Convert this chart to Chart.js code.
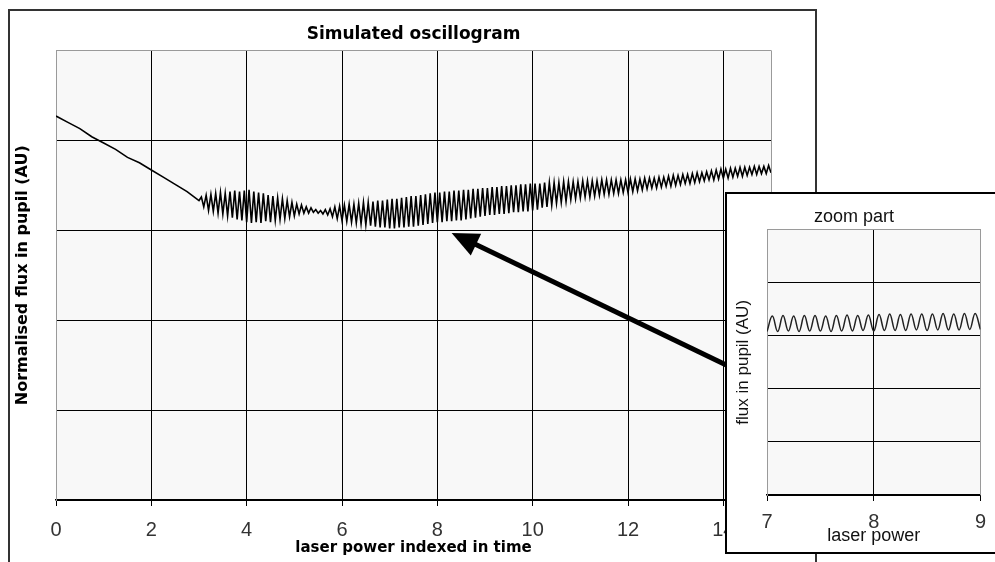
<!DOCTYPE html>
<html><head><meta charset="utf-8">
<script src="https://cdn.jsdelivr.net/npm/chart.js@4.4.1/dist/chart.umd.min.js"></script>
<style>
html,body{margin:0;padding:0;background:#fff;}
body{width:995px;height:562px;overflow:hidden;position:relative;}
#frame{position:absolute;left:8px;top:9px;width:805px;height:600px;border:2px solid #333;}
#mainWrap{position:absolute;left:0;top:0;}
#inset{position:absolute;left:725px;top:192px;width:300px;height:358px;border:2px solid #000;background:#fff;}
canvas{display:block;}
</style></head><body>
<div id="frame"></div>
<div id="mainWrap"><canvas id="main" width="816" height="562"></canvas></div>
<div id="inset"><canvas id="zoom" width="268" height="358"></canvas></div>
<script>
// ---------- DATA ----------
const mainTitle = 'Simulated oscillogram';
const mainXTitle = 'laser power indexed in time';
const mainYTitle = 'Normalised flux in pupil (AU)';
const mainXTicks = [0, 2, 4, 6, 8, 10, 12, 14];

// initial ramp (before oscillation)
const rampX = [0, 0.25, 0.5, 0.75, 1, 1.25, 1.5, 1.75, 2, 2.25, 2.5, 2.75, 3];
const rampY = [4.27, 4.20, 4.13, 4.04, 3.97, 3.90, 3.81, 3.75, 3.67, 3.59, 3.51, 3.43, 3.33];

// oscillating part
const oscX = [
 3.05,3.1,3.15,3.2,3.25,3.3,3.35,3.4,3.45,3.5,3.55,3.6,3.65,3.7,3.75,3.8,3.85,3.9,3.95,4,
 4.05,4.1,4.15,4.2,4.25,4.3,4.35,4.4,4.45,4.5,4.55,4.6,4.65,4.7,4.75,4.8,4.85,4.9,4.95,5,
 5.05,5.1,5.15,5.2,5.25,5.3,5.35,5.4,5.45,5.5,5.55,5.6,5.65,5.7,5.75,5.8,5.85,5.9,5.95,6,
 6.05,6.1,6.15,6.2,6.25,6.3,6.35,6.4,6.45,6.5,6.55,6.6,6.65,6.7,6.75,6.8,6.85,6.9,6.95,7,
 7.05,7.1,7.15,7.2,7.25,7.3,7.35,7.4,7.45,7.5,7.55,7.6,7.65,7.7,7.75,7.8,7.85,7.9,7.95,8,
 8.05,8.1,8.15,8.2,8.25,8.3,8.35,8.4,8.45,8.5,8.55,8.6,8.65,8.7,8.75,8.8,8.85,8.9,8.95,9,
 9.05,9.1,9.15,9.2,9.25,9.3,9.35,9.4,9.45,9.5,9.55,9.6,9.65,9.7,9.75,9.8,9.85,9.9,9.95,10,
 10.05,10.1,10.15,10.2,10.25,10.3,10.35,10.4,10.45,10.5,10.55,10.6,10.65,10.7,10.75,10.8,10.85,10.9,10.95,11,
 11.05,11.1,11.15,11.2,11.25,11.3,11.35,11.4,11.45,11.5,11.55,11.6,11.65,11.7,11.75,11.8,11.85,11.9,11.95,12,
 12.05,12.1,12.15,12.2,12.25,12.3,12.35,12.4,12.45,12.5,12.55,12.6,12.65,12.7,12.75,12.8,12.85,12.9,12.95,13,
 13.05,13.1,13.15,13.2,13.25,13.3,13.35,13.4,13.45,13.5,13.55,13.6,13.65,13.7,13.75,13.8,13.85,13.9,13.95,14,
 14.05,14.1,14.15,14.2,14.25,14.3,14.35,14.4,14.45,14.5,14.55,14.6,14.65,14.7,14.75,14.8,14.85,14.9,14.95,15
];
const oscY = [
 3.37,3.26,3.39,3.22,3.40,3.21,3.41,3.19,3.42,3.18,3.41,3.16,3.43,3.14,3.44,3.12,3.43,3.11,3.44,3.09,
 3.45,3.08,3.43,3.09,3.42,3.08,3.41,3.10,3.39,3.09,3.38,3.11,3.36,3.12,3.35,3.13,3.33,3.15,3.31,3.16,
 3.29,3.18,3.28,3.19,3.26,3.19,3.25,3.20,3.23,3.19,3.22,3.18,3.23,3.17,3.24,3.15,3.26,3.13,3.27,3.11,
 3.28,3.10,3.29,3.09,3.29,3.08,3.30,3.07,3.31,3.06,3.31,3.05,3.32,3.04,3.33,3.03,3.33,3.03,3.34,3.02,
 3.35,3.02,3.35,3.03,3.36,3.03,3.37,3.04,3.38,3.04,3.38,3.05,3.39,3.06,3.40,3.07,3.41,3.08,3.42,3.09,
 3.42,3.09,3.43,3.10,3.43,3.10,3.44,3.11,3.44,3.11,3.45,3.12,3.45,3.13,3.46,3.14,3.46,3.15,3.47,3.16,
 3.47,3.17,3.48,3.17,3.48,3.18,3.49,3.18,3.49,3.19,3.50,3.20,3.50,3.20,3.51,3.21,3.51,3.21,3.52,3.22,
 3.52,3.23,3.52,3.25,3.53,3.26,3.53,3.28,3.53,3.30,3.53,3.31,3.54,3.32,3.54,3.34,3.54,3.35,3.54,3.36,
 3.55,3.37,3.55,3.37,3.55,3.38,3.55,3.39,3.56,3.40,3.56,3.40,3.56,3.41,3.56,3.41,3.56,3.42,3.56,3.42,
 3.57,3.43,3.57,3.44,3.57,3.45,3.58,3.46,3.58,3.47,3.58,3.47,3.59,3.48,3.59,3.49,3.60,3.49,3.61,3.50,
 3.61,3.51,3.62,3.52,3.62,3.52,3.63,3.53,3.64,3.54,3.64,3.55,3.65,3.56,3.66,3.56,3.67,3.57,3.68,3.58,
 3.68,3.58,3.69,3.59,3.69,3.60,3.70,3.60,3.70,3.61,3.70,3.62,3.71,3.62,3.71,3.63,3.71,3.63,3.72,3.64
];

// arrow annotation (data coordinates of main chart)
const arrowTail = [14.3, 1.44];
const arrowHead = [8.3, 2.97];

// inset ("zoom part")
const zoomTitle = 'zoom part';
const zoomXTitle = 'laser power';
const zoomYTitle = 'flux in pupil (AU)';
const zoomXTicks = [7, 8, 9];
const zoomX = [7,7.05,7.1,7.15,7.2,7.25,7.3,7.35,7.4,7.45,7.5,7.55,7.6,7.65,7.7,7.75,7.8,7.85,7.9,7.95,
 8,8.05,8.1,8.15,8.2,8.25,8.3,8.35,8.4,8.45,8.5,8.55,8.6,8.65,8.7,8.75,8.8,8.85,8.9,8.95,9];
const zoomY = [3.08,3.37,3.08,3.38,3.09,3.37,3.08,3.38,3.09,3.38,3.09,3.37,3.08,3.38,3.09,3.39,3.09,3.38,3.10,3.39,
 3.09,3.40,3.10,3.41,3.10,3.40,3.10,3.41,3.11,3.41,3.10,3.41,3.11,3.42,3.11,3.41,3.11,3.42,3.12,3.42,3.12];

// ---------- STYLE / RENDER ----------
const edgeGray = '#9a9a9a';
const plotBg = '#f8f8f8';
const sans = "'Liberation Sans', Arial, sans-serif";
const wideBold = "'DejaVu Sans', 'Liberation Sans', sans-serif";

const mainX = rampX.concat(oscX);
const mainY = rampY.concat(oscY);
const mainPoints = mainX.map((x, i) => ({x: x, y: mainY[i]}));
const zoomPoints = zoomX.map((x, i) => ({x: x, y: zoomY[i]}));

const areaPlugin = {
  id: 'area',
  beforeDraw(chart) {
    const a = chart.chartArea, ctx = chart.ctx;
    ctx.save(); ctx.fillStyle = plotBg;
    ctx.fillRect(a.left, a.top, a.right - a.left, a.bottom - a.top);
    ctx.restore();
  },
  beforeDatasetsDraw(chart) {
    const a = chart.chartArea, ctx = chart.ctx;
    ctx.save(); ctx.strokeStyle = edgeGray; ctx.lineWidth = 1;
    ctx.beginPath(); ctx.moveTo(Math.round(a.right) + 0.5, a.top); ctx.lineTo(Math.round(a.right) + 0.5, a.bottom); ctx.stroke();
    ctx.restore();
  }
};

const arrowPlugin = {
  id: 'arrow',
  afterDatasetsDraw(chart) {
    const {ctx, scales: {x, y}} = chart;
    const x1 = x.getPixelForValue(arrowTail[0]), y1 = y.getPixelForValue(arrowTail[1]);
    const x2 = x.getPixelForValue(arrowHead[0]), y2 = y.getPixelForValue(arrowHead[1]);
    const dx = x2 - x1, dy = y2 - y1, L = Math.hypot(dx, dy), ux = dx / L, uy = dy / L;
    const headLen = 27, headHalf = 12;
    const bx = x2 - ux * headLen, by = y2 - uy * headLen;
    ctx.save();
    ctx.strokeStyle = '#000'; ctx.lineWidth = 5;
    ctx.beginPath(); ctx.moveTo(x1, y1); ctx.lineTo(bx + ux * 3, by + uy * 3); ctx.stroke();
    ctx.fillStyle = '#000';
    ctx.beginPath(); ctx.moveTo(x2, y2);
    ctx.lineTo(bx - uy * headHalf, by + ux * headHalf);
    ctx.lineTo(bx + uy * headHalf, by - ux * headHalf);
    ctx.closePath(); ctx.fill();
    ctx.restore();
  }
};

new Chart(document.getElementById('main'), {
  type: 'line',
  data: {datasets: [{data: mainPoints, borderColor: '#000', borderWidth: 1.6, pointRadius: 0, tension: 0, fill: false}]},
  options: {
    responsive: false, animation: false, events: [],
    layout: {padding: {left: 0, right: 45, top: 0, bottom: 0}},
    plugins: {
      legend: {display: false}, tooltip: {enabled: false},
      title: {display: true, text: mainTitle, fullSize: false, color: '#000',
        font: {family: wideBold, size: 17, weight: 'bold'}, padding: {top: 24, bottom: 6}}
    },
    scales: {
      x: {
        type: 'linear', min: 0, max: 15,
        afterBuildTicks: s => { s.ticks = mainXTicks.map(v => ({value: v})); },
        afterFit: s => { s.height = 62; },
        grid: {color: c => (c.tick && c.tick.value === 0) ? edgeGray : '#000', lineWidth: 1, tickLength: 6, tickColor: '#000'},
        border: {color: '#000', width: 1.5},
        ticks: {color: '#333', font: {family: sans, size: 20}, padding: 12, maxRotation: 0, autoSkip: false},
        title: {display: true, text: mainXTitle, color: '#000', font: {family: wideBold, size: 15, weight: 'bold'}, padding: {top: 0, bottom: 5}}
      },
      y: {
        type: 'linear', min: 0, max: 5,
        ticks: {display: false, stepSize: 1},
        afterFit: s => { s.width = 56; },
        grid: {color: c => (c.tick && c.tick.value === 5) ? edgeGray : '#000', lineWidth: 1, drawTicks: false},
        border: {color: edgeGray, width: 1},
        title: {display: true, text: mainYTitle, color: '#000', font: {family: wideBold, size: 16, weight: 'bold'}, padding: {top: 13, bottom: 0}}
      }
    }
  },
  plugins: [areaPlugin, arrowPlugin]
});

new Chart(document.getElementById('zoom'), {
  type: 'line',
  data: {datasets: [{data: zoomPoints, borderColor: '#222', borderWidth: 1.5, pointRadius: 0, tension: 0.4, fill: false}]},
  options: {
    responsive: false, animation: false, events: [],
    layout: {padding: {left: 0, right: 14, top: 0, bottom: 0}},
    plugins: {
      legend: {display: false}, tooltip: {enabled: false},
      title: {display: true, text: zoomTitle, color: '#111',
        font: {family: sans, size: 18, weight: 'normal'}, padding: {top: 12, bottom: 2}}
    },
    scales: {
      x: {
        type: 'linear', min: 7, max: 9,
        afterBuildTicks: s => { s.ticks = zoomXTicks.map(v => ({value: v})); },
        afterFit: s => { s.height = 57; },
        grid: {color: c => (c.tick && c.tick.value === 7) ? edgeGray : '#000', lineWidth: 1, tickLength: 6, tickColor: '#000'},
        border: {color: '#000', width: 1.5},
        ticks: {color: '#333', font: {family: sans, size: 20}, padding: 9, maxRotation: 0, autoSkip: false},
        title: {display: true, text: zoomXTitle, color: '#111', font: {family: sans, size: 18}, padding: {top: 0, bottom: 5}}
      },
      y: {
        type: 'linear', min: 0, max: 5,
        ticks: {display: false, stepSize: 1},
        afterFit: s => { s.width = 40; },
        grid: {color: c => (c.tick && c.tick.value === 5) ? edgeGray : '#000', lineWidth: 1, drawTicks: false},
        border: {color: edgeGray, width: 1},
        title: {display: true, text: zoomYTitle, color: '#111', font: {family: sans, size: 17}, padding: {top: 6, bottom: 0}}
      }
    }
  },
  plugins: [areaPlugin]
});
</script>
</body></html>
